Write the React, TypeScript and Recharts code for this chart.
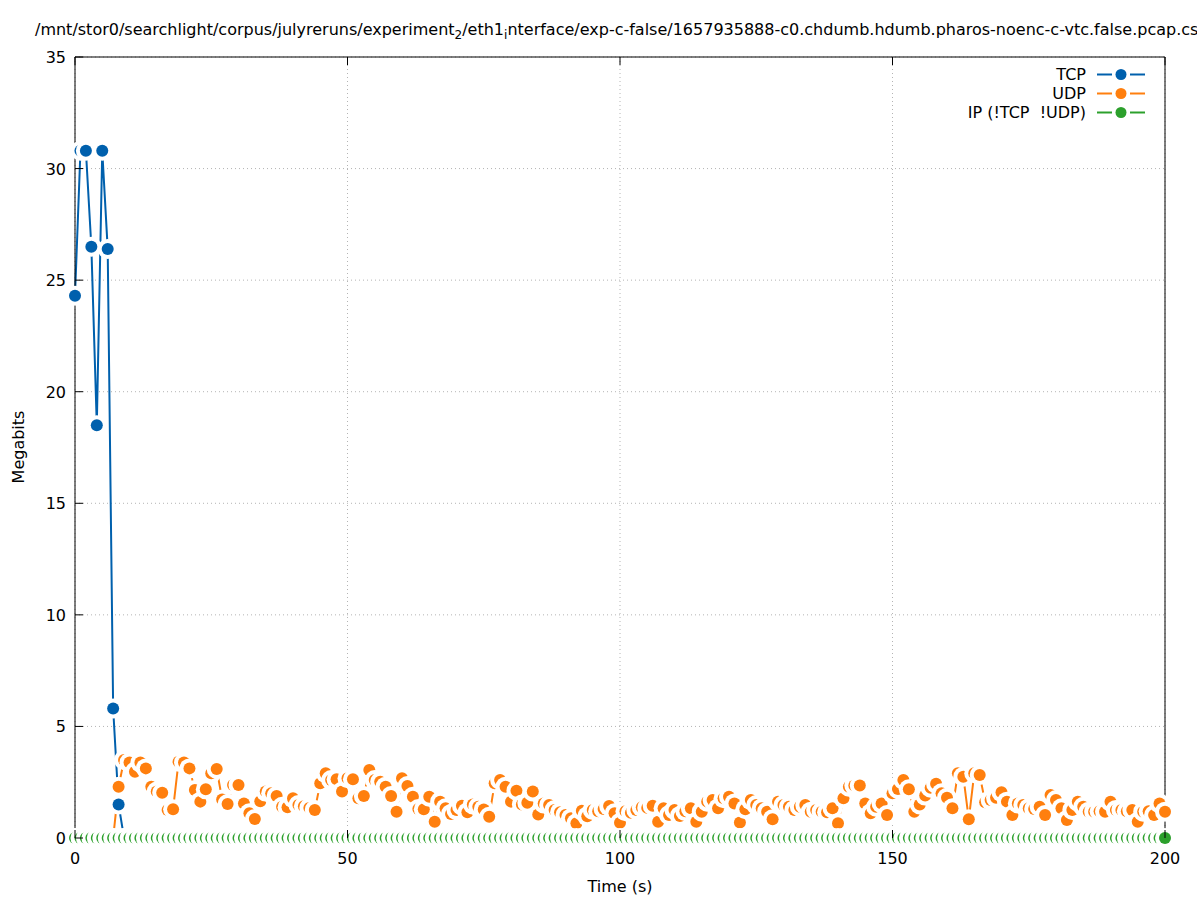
import React from 'react';
import { LineChart, Line, XAxis, YAxis, CartesianGrid } from 'recharts';

// Megabits per second, one value per second (0..200 s)
const tcpMbits = [
  24.3, 30.8, 30.8, 26.5, 18.5, 30.8, 26.4, 5.8, 1.5, 0,
  0, 0, 0, 0, 0, 0, 0, 0, 0, 0, 0, 0, 0, 0, 0, 0, 0, 0, 0, 0,
  0, 0, 0, 0, 0, 0, 0, 0, 0, 0, 0, 0, 0, 0, 0, 0, 0, 0, 0, 0,
  0, 0, 0, 0, 0, 0, 0, 0, 0, 0, 0, 0, 0, 0, 0, 0, 0, 0, 0, 0,
  0, 0, 0, 0, 0, 0, 0, 0, 0, 0, 0, 0, 0, 0, 0, 0, 0, 0, 0, 0,
  0, 0, 0, 0, 0, 0, 0, 0, 0, 0, 0, 0, 0, 0, 0, 0, 0, 0, 0, 0,
  0, 0, 0, 0, 0, 0, 0, 0, 0, 0, 0, 0, 0, 0, 0, 0, 0, 0, 0, 0,
  0, 0, 0, 0, 0, 0, 0, 0, 0, 0, 0, 0, 0, 0, 0, 0, 0, 0, 0, 0,
  0, 0, 0, 0, 0, 0, 0, 0, 0, 0, 0, 0, 0, 0, 0, 0, 0, 0, 0, 0,
  0, 0, 0, 0, 0, 0, 0, 0, 0, 0, 0, 0, 0, 0, 0, 0, 0, 0, 0, 0,
  0, 0,
];

const udpMbits = [
  0, 0, 0, 0, 0, 0, 0, 0, 2.3, 3.5,
  3.38, 2.97, 3.38, 3.12, 2.3, 2.08, 2.03, 1.26, 1.29, 3.42,
  3.38, 3.12, 2.15, 1.63, 2.18, 2.9, 3.09, 1.73, 1.52, 2.38,
  2.38, 1.55, 1.11, 0.85, 1.65, 2.08, 2.0, 1.88, 1.4, 1.38,
  1.78, 1.48, 1.42, 1.35, 1.26, 2.45, 2.9, 2.6, 2.63, 2.08,
  2.68, 2.63, 1.78, 1.88, 3.05, 2.6, 2.52, 2.3, 1.88, 1.18,
  2.68, 2.33, 1.85, 1.3, 1.29, 1.85, 0.73, 1.63, 1.33, 1.08,
  1.25, 1.45, 1.15, 1.5, 1.4, 1.28, 0.95, 2.45, 2.6, 2.3,
  1.63, 2.12, 1.5, 1.58, 2.08, 1.05, 1.55, 1.48, 1.26, 1.15,
  1.03, 0.88, 0.66, 1.22, 0.97, 1.26, 1.2, 1.3, 1.43, 1.11,
  0.68, 1.2, 1.13, 1.26, 1.38, 1.35, 1.45, 0.73, 1.33, 1.03,
  1.26, 0.99, 1.2, 1.33, 0.73, 1.18, 1.63, 1.7, 1.33, 1.78,
  1.85, 1.55, 0.69, 1.29, 1.7, 1.48, 1.33, 1.18, 0.84, 1.63,
  1.48, 1.4, 1.26, 1.4, 1.48, 1.18, 1.26, 1.18, 1.15, 1.33,
  0.66, 1.78, 2.3, 2.35, 2.35, 1.55, 1.11, 1.4, 1.55, 1.03,
  2.0, 2.2, 2.6, 2.18, 1.18, 1.5, 1.9, 2.25, 2.43, 2.0,
  1.8, 1.33, 2.9, 2.75, 0.84, 2.9, 2.82, 1.6, 1.7, 1.8,
  2.05, 1.63, 1.03, 1.55, 1.48, 1.33, 1.3, 1.4, 1.03, 1.93,
  1.7, 1.33, 0.81, 1.26, 1.63, 1.4, 1.18, 1.18, 1.2, 1.18,
  1.63, 1.26, 1.26, 1.2, 1.26, 0.73, 1.18, 1.2, 1.03, 1.55,
  1.18,
];

const ipMbits = [
  0, 0, 0, 0, 0, 0, 0, 0, 0, 0, 0, 0, 0, 0, 0, 0, 0, 0, 0, 0,
  0, 0, 0, 0, 0, 0, 0, 0, 0, 0, 0, 0, 0, 0, 0, 0, 0, 0, 0, 0,
  0, 0, 0, 0, 0, 0, 0, 0, 0, 0, 0, 0, 0, 0, 0, 0, 0, 0, 0, 0,
  0, 0, 0, 0, 0, 0, 0, 0, 0, 0, 0, 0, 0, 0, 0, 0, 0, 0, 0, 0,
  0, 0, 0, 0, 0, 0, 0, 0, 0, 0, 0, 0, 0, 0, 0, 0, 0, 0, 0, 0,
  0, 0, 0, 0, 0, 0, 0, 0, 0, 0, 0, 0, 0, 0, 0, 0, 0, 0, 0, 0,
  0, 0, 0, 0, 0, 0, 0, 0, 0, 0, 0, 0, 0, 0, 0, 0, 0, 0, 0, 0,
  0, 0, 0, 0, 0, 0, 0, 0, 0, 0, 0, 0, 0, 0, 0, 0, 0, 0, 0, 0,
  0, 0, 0, 0, 0, 0, 0, 0, 0, 0, 0, 0, 0, 0, 0, 0, 0, 0, 0, 0,
  0, 0, 0, 0, 0, 0, 0, 0, 0, 0, 0, 0, 0, 0, 0, 0, 0, 0, 0, 0,
  0,
];

const xTicks = [0, 50, 100, 150, 200];
const yTicks = [0, 5, 10, 15, 20, 25, 30, 35];

const series = [
  { key: 'tcp', name: 'TCP', color: '#0060ad' },
  { key: 'udp', name: 'UDP', color: '#ff7f0e' },
  { key: 'ip', name: 'IP (!TCP  !UDP)', color: '#2ca02c' },
];

const data = udpMbits.map((udp, i) => ({
  t: i,
  tcp: tcpMbits[i],
  udp,
  ip: ipMbits[i],
}));

const FONT = '"DejaVu Sans", sans-serif';
const FS = 16;
const TICK_LEN = 8;

// gnuplot-style point: white halo then filled dot
const ringDot = (color: string) => (props: any) => {
  const { cx, cy, index } = props;
  if (cx == null || cy == null) return <g key={`d-${index}`} />;
  return (
    <g key={`d-${index}`}>
      <circle cx={cx} cy={cy} r={10} fill="#fff" />
      <circle cx={cx} cy={cy} r={6} fill={color} />
    </g>
  );
};

const BottomTick = (props: any) => {
  const { x, y, payload } = props;
  return (
    <g>
      <line x1={x} y1={y} x2={x} y2={y - TICK_LEN} stroke="#000" />
      <text x={x} y={y + 26} textAnchor="middle" fontSize={FS} fontFamily={FONT} fill="#000">
        {payload.value}
      </text>
    </g>
  );
};

const TopTick = (props: any) => {
  const { x, y } = props;
  return <line x1={x} y1={y} x2={x} y2={y + TICK_LEN} stroke="#000" />;
};

const LeftTick = (props: any) => {
  const { x, y, payload } = props;
  return (
    <g>
      <line x1={x} y1={y} x2={x + TICK_LEN} y2={y} stroke="#000" />
      <text x={x - 9} y={y + 6} textAnchor="end" fontSize={FS} fontFamily={FONT} fill="#000">
        {payload.value}
      </text>
    </g>
  );
};

const RightTick = (props: any) => {
  const { x, y } = props;
  return <line x1={x} y1={y} x2={x - TICK_LEN} y2={y} stroke="#000" />;
};

const LegendBox = () => (
  <div style={{ position: 'absolute', left: 860, top: 64.5, width: 285, fontFamily: FONT, fontSize: FS }}>
    {series.map((s) => (
      <div key={s.key} style={{ display: 'flex', justifyContent: 'flex-end', alignItems: 'center', height: 19 }}>
        <span style={{ whiteSpace: 'pre', lineHeight: '19px' }}>{s.name}</span>
        <svg width={48} height={19} style={{ marginLeft: 11 }}>
          <line x1={0} y1={9.5} x2={15} y2={9.5} stroke={s.color} strokeWidth={2} />
          <line x1={33} y1={9.5} x2={48} y2={9.5} stroke={s.color} strokeWidth={2} />
          <circle cx={24} cy={9.5} r={5.5} fill={s.color} />
        </svg>
      </div>
    ))}
  </div>
);

const subStyle: React.CSSProperties = { fontSize: '0.75em', verticalAlign: '-0.35em', lineHeight: 0 };

export default function App() {
  return (
    <div
      style={{
        position: 'absolute',
        left: 0,
        top: 0,
        width: 1197,
        height: 900,
        overflow: 'hidden',
        background: '#fff',
        fontFamily: FONT,
        color: '#000',
      }}
    >
      <div style={{ position: 'absolute', left: 35, top: 20, fontSize: FS, lineHeight: '19px', whiteSpace: 'nowrap' }}>
        /mnt/stor0/searchlight/corpus/julyreruns/experiment<span style={subStyle}>2</span>/eth1
        <span style={subStyle}>i</span>nterface/exp-c-false/1657935888-c0.chdumb.hdumb.pharos-noenc-c-vtc.false.pcap.csv
      </div>

      <LineChart width={1197} height={900} data={data} margin={{ top: 56, right: 31, bottom: 32, left: 0 }}>
        <CartesianGrid stroke="#b4b4b4" strokeDasharray="1 3" />
        {series.map((s) => (
          <Line
            key={s.key}
            type="linear"
            dataKey={s.key}
            name={s.name}
            stroke={s.color}
            strokeWidth={2}
            dot={ringDot(s.color)}
            activeDot={false}
            isAnimationActive={false}
          />
        ))}
        <XAxis
          dataKey="t"
          type="number"
          domain={[0, 200]}
          ticks={xTicks}
          height={30}
          tickSize={0}
          tickMargin={0}
          axisLine={{ stroke: '#000' }}
          tick={<BottomTick />}
          interval={0}
        />
        <XAxis
          xAxisId="top"
          orientation="top"
          dataKey="t"
          type="number"
          domain={[0, 200]}
          ticks={xTicks}
          height={1}
          tickSize={0}
          tickMargin={0}
          axisLine={{ stroke: '#000' }}
          tick={<TopTick />}
          interval={0}
        />
        <YAxis
          type="number"
          domain={[0, 35]}
          ticks={yTicks}
          width={75}
          tickSize={0}
          tickMargin={0}
          axisLine={{ stroke: '#000' }}
          tick={<LeftTick />}
          interval={0}
        />
        <YAxis
          yAxisId="right"
          orientation="right"
          type="number"
          domain={[0, 35]}
          ticks={yTicks}
          width={1}
          tickSize={0}
          tickMargin={0}
          axisLine={{ stroke: '#000' }}
          tick={<RightTick />}
          interval={0}
        />
      </LineChart>

      <LegendBox />

      <div
        style={{
          position: 'absolute',
          left: 18,
          top: 447,
          fontSize: FS,
          whiteSpace: 'nowrap',
          transform: 'translate(-50%, -50%) rotate(-90deg)',
        }}
      >
        Megabits
      </div>
      <div
        style={{
          position: 'absolute',
          left: 620,
          top: 886,
          fontSize: FS,
          whiteSpace: 'nowrap',
          transform: 'translate(-50%, -50%)',
        }}
      >
        Time (s)
      </div>
    </div>
  );
}
